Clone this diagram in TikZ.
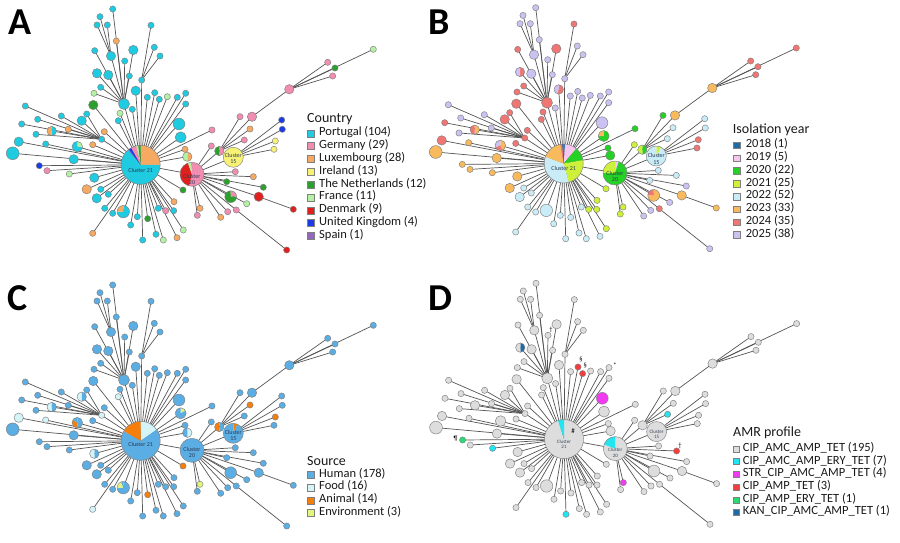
\documentclass[tikz,border=0pt]{standalone}
\usepackage{fontspec}
\setmainfont{Carlito}
% country
\definecolor{cPT}{HTML}{1ECBE1}\definecolor{cDE}{HTML}{F28DB2}\definecolor{cLU}{HTML}{F5A962}
\definecolor{cIE}{HTML}{F7F176}\definecolor{cNL}{HTML}{2CA02C}\definecolor{cFR}{HTML}{B3F1A3}
\definecolor{cDK}{HTML}{E0201E}\definecolor{cUK}{HTML}{1A3CE6}\definecolor{cES}{HTML}{9467BD}
% year
\definecolor{yA}{HTML}{1F6BA6}\definecolor{yB}{HTML}{F9C6F2}\definecolor{yC}{HTML}{25D125}
\definecolor{yD}{HTML}{CDF03A}\definecolor{yE}{HTML}{C9ECF7}\definecolor{yF}{HTML}{F8BA5C}
\definecolor{yG}{HTML}{F07673}\definecolor{yH}{HTML}{CBC2F2}
% source
\definecolor{sH}{HTML}{5BAEE3}\definecolor{sF}{HTML}{D4F4F7}\definecolor{sA}{HTML}{F57F0A}\definecolor{sE}{HTML}{E3F57A}
% amr
\definecolor{gG}{HTML}{DDDDDD}\definecolor{gC}{HTML}{22E5F2}\definecolor{gM}{HTML}{F23AF2}
\definecolor{gR}{HTML}{F23E3E}\definecolor{gN}{HTML}{2ADB74}\definecolor{gK}{HTML}{1F6BA6}
\definecolor{edgecol}{HTML}{555555}\definecolor{rimcol}{HTML}{7F7F7F}
\definecolor{txtcol}{HTML}{1A1A1A}\definecolor{clcol}{HTML}{2B3A55}

\newcommand\setseg[3]{\expandafter\gdef\csname seg@#1@#2\endcsname{#3}}
\newcommand\setcols[3]{\foreach \q in {#3}{\setseg{#1}{\q}{0/360/#2}}}
\newcommand\setdef[2]{\expandafter\gdef\csname def@#1\endcsname{#2}}

\def\nodelist{1/140.7/164.8/19.5pt/0,2/192.0/174.3/12pt/1,3/233.3/157.3/10pt/2,4/219.3/151.0/4.7pt/2,
5/240.0/116.7/3.1pt/4,6/252.0/116.7/4.7pt/4,7/289.3/89.3/4.7pt/6,8/327.7/62.3/3.1pt/7,9/335.0/68.0/3.1pt/7,
10/332.7/76.0/3.1pt/7,11/373.3/49.3/3.1pt/7,12/250.0/129.0/3.1pt/4,13/244.3/140.0/3.1pt/4,14/211.3/146.0/3.1pt/2,
15/281.7/120.0/3.1pt/3,16/282.3/129.3/3.1pt/3,17/275.3/141.0/3.1pt/3,18/274.0/149.3/3.1pt/3,19/235.3/171.7/3.1pt/2,
20/253.3/176.7/3.1pt/2,21/226.7/181.7/3.1pt/2,22/263.3/187.3/3.1pt/2,23/258.7/196.7/4.7pt/2,24/293.3/209.3/3.1pt/23,
25/230.7/196.7/5.9pt/2,26/246.7/203.7/3.1pt/2,27/236.3/210.0/3.1pt/2,28/227.7/211.7/3.1pt/2,29/220.7/217.3/3.1pt/2,
30/200.0/208.3/3.1pt/2,31/197.3/215.3/3.1pt/2,32/286.7/250.0/3.1pt/27,33/185.0/149.3/3.1pt/1,34/187.3/156.7/4.7pt/1,
35/212.0/130.0/3.1pt/1,36/179.0/124.0/5.9pt/1,37/180.7/137.3/5.5pt/1,38/147.3/97.3/3.1pt/1,39/154.7/92.7/3.1pt/1,
40/159.3/99.3/3.1pt/1,41/167.3/96.7/3.1pt/1,42/177.3/97.3/3.1pt/1,43/185.7/93.3/3.1pt/1,44/185.7/104.0/3.1pt/1,
45/124.0/104.0/5.5pt/1,46/112.7/9.0/3.1pt/45,47/111.0/56.0/4.7pt/45,48/100.0/16.7/3.1pt/47,49/97.0/25.0/3.1pt/47,
50/107.3/25.0/3.1pt/47,51/116.3/41.0/3.1pt/45,52/133.3/50.0/4.7pt/45,53/94.7/50.7/3.1pt/45,54/124.7/61.0/3.1pt/45,
55/97.0/73.3/4.7pt/45,56/108.3/75.0/4.7pt/45,57/129.3/76.0/3.1pt/45,58/100.7/87.3/3.1pt/45,59/135.7/90.7/4.7pt/1,
60/151.0/25.3/3.1pt/63,61/154.3/47.3/3.1pt/63,62/160.0/56.0/3.1pt/63,63/141.7/80.0/3.1pt/1,64/132.3/109.3/3.1pt/1,
65/93.3/105.0/4.7pt/1,66/94.0/93.3/3.1pt/45,67/118.3/120.7/3.1pt/1,68/120.0/113.3/3.1pt/1,69/101.7/139.3/3.1pt/1,
70/25.3/106.0/3.1pt/69,71/37.7/119.3/3.1pt/69,72/61.3/116.0/3.1pt/69,73/86.7/114.0/3.1pt/69,74/81.7/120.7/4.7pt/69,
75/21.7/124.0/3.1pt/69,76/51.7/131.0/4.7pt/69,77/68.3/129.3/3.1pt/69,78/104.3/131.7/3.1pt/1,79/36.0/134.3/3.1pt/69,
80/45.7/144.0/3.1pt/1,81/18.7/141.7/4.7pt/1,82/77.3/146.7/5.3pt/1,83/92.7/144.7/3.1pt/1,84/12.7/153.3/6.4pt/1,
85/73.7/159.3/4.7pt/1,86/39.3/165.7/3.1pt/1,87/47.0/170.7/3.1pt/1,88/69.3/174.0/3.1pt/1,89/94.3/177.7/4.7pt/1,
90/86.7/189.3/4.7pt/1,91/100.7/189.3/3.1pt/1,92/96.7/198.3/4.7pt/1,93/108.3/194.3/3.1pt/1,94/104.7/208.3/3.1pt/1,
95/92.7/233.3/3.1pt/1,96/112.7/213.3/3.1pt/1,97/123.3/211.7/6.2pt/1,98/130.7/225.0/3.1pt/1,99/137.3/216.7/3.1pt/1,
100/142.7/240.0/3.1pt/1,101/147.7/218.7/3.1pt/1,102/156.0/234.3/3.1pt/1,103/158.3/208.3/3.1pt/1,104/165.7/210.7/3.1pt/1,
105/163.3/240.0/3.1pt/1,106/173.7/210.7/3.1pt/1,107/177.0/237.7/3.1pt/1,108/183.3/230.0/3.1pt/1,109/174.0/201.7/3.1pt/1,
110/183.0/190.0/3.1pt/1}

\newcommand\drawtree[3]{%
\begin{scope}[shift={(#2,#3)}]
  \foreach \i/\x/\y/\r/\p in \nodelist {\coordinate (#1-\i) at (\x,\y);}
  \foreach \i/\x/\y/\r/\p in \nodelist {\ifnum\p>0 \draw[edge] (#1-\p) -- (#1-\i);\fi}
  \foreach \i/\x/\y/\r/\p in \nodelist {%
    \ifcsname seg@#1@\i\endcsname
      \edef\seglist{\csname seg@#1@\i\endcsname}%
    \else
      \edef\seglist{0/360/\csname def@#1\endcsname}%
    \fi
    \foreach \a/\b/\c in \seglist {%
      \fill[\c] (#1-\i) -- ++({90-\a}:\r) arc[start angle={90-\a}, end angle={90-\b}, radius=\r] -- cycle;}
    \draw[rim] (#1-\i) circle[radius=\r];
  }
\end{scope}}

% ---------- panel A
\setdef{A}{cPT}
\setseg{A}{1}{0/90/cLU,90/320/cPT,320/323/cES,323/331/cUK,331/347/cDE,347/353/cFR,353/360/cNL}
\setseg{A}{2}{0/195/cDE,195/340/cDK,340/355/cFR,355/360/cDE}
\setseg{A}{3}{0/360/cIE}
\setseg{A}{4}{0/180/cDE,180/360/cNL}
\setcols{A}{cDE}{5,6,7,8,10,13,14,19,27,28,31,35,87,104}
\setcols{A}{cNL}{9,21,22,65,101,110}
\setcols{A}{cFR}{11,26,41,66,68,88,105,108}
\setcols{A}{cLU}{12,20,29,30,33,51,77,78,83,90,95,107,109}
\setcols{A}{cUK}{15,16,86}
\setcols{A}{cIE}{17,18}
\setcols{A}{cDK}{23,24,32}
\setseg{A}{25}{0/90/cDE,90/360/cNL}
\setseg{A}{34}{0/180/cLU,180/360/cFR}
\setseg{A}{76}{0/180/cPT,180/360/cLU}
\setseg{A}{82}{0/100/cFR,100/360/cPT}
\setseg{A}{97}{0/270/cPT,270/360/cLU}
% ---------- panel B
\setdef{B}{yE}
\setseg{B}{1}{0/4/yA,4/40/yB,40/80/yC,80/165/yD,165/290/yE,290/350/yF,350/356/yG,356/360/yA}
\setseg{B}{2}{0/18/yB,18/270/yC,270/360/yD}
\setseg{B}{3}{0/30/yD,30/360/yE}
\setseg{B}{4}{0/180/yC,180/360/yD}
\setcols{B}{yC}{5,33,34,35}
\setcols{B}{yF}{6,7,23,24,80,84,85,86,87,88,89,90}
\setcols{B}{yG}{8,9,10,11,17,18,27,45,52,53,58,60,65,66,67,68,69,73,74,75,78,81,83}
\setcols{B}{yH}{22,26,28,29,32,36,38,39,40,41,42,43,44,46,47,48,49,50,51,54,56,57,61,62,63,64,70,71,72,77,79}
\setcols{B}{yD}{14,30,31,104,106,108,109,110}
\setseg{B}{25}{0/270/yF,270/360/yG}
\setseg{B}{37}{0/270/yC,270/360/yF}
\setseg{B}{55}{0/180/yG,180/360/yH}
\setseg{B}{59}{0/200/yG,200/360/yH}
\setseg{B}{76}{0/180/yF,180/360/yG}
\setseg{B}{82}{0/160/yF,160/250/yG,250/360/yH}
% ---------- panel C
\setdef{C}{sH}
\setseg{C}{1}{0/55/sF,55/300/sH,300/360/sA}
\setseg{C}{3}{0/25/sA,25/360/sH}
\setseg{C}{4}{0/180/sH,180/360/sA}
\setcols{C}{sA}{12,17,101,110}
\setcols{C}{sF}{67,69,80,81,95}
\setcols{C}{sE}{30}
\setseg{C}{34}{0/180/sF,180/360/sH}
\setseg{C}{37}{0/60/sE,60/360/sH}
\setseg{C}{74}{0/180/sH,180/360/sF}
\setseg{C}{76}{0/180/sH,180/360/sF}
\setseg{C}{82}{0/180/sH,180/300/sA,300/360/sH}
\setseg{C}{89}{0/180/sH,180/360/sF}
\setseg{C}{97}{0/270/sH,270/340/sE,340/360/sH}
% ---------- panel D
\setdef{D}{gG}
\setseg{D}{1}{0/342/gG,342/360/gC}
\setseg{D}{2}{0/290/gG,290/360/gC}
\setseg{D}{55}{0/180/gK,180/360/gG}
\setcols{D}{gR}{39,40,20}
\setcols{D}{gM}{36,30}
\setcols{D}{gC}{13,100,88}
\setcols{D}{gN}{86}

\tikzset{
  edge/.style={draw=edgecol, line width=0.7pt},
  rim/.style={draw=rimcol, line width=0.45pt},
  legbox/.style={draw=rimcol, line width=0.5pt, minimum size=7pt, inner sep=0pt},
  legtxt/.style={font=\fontsize{12.5}{13}\selectfont, text=txtcol, anchor=mid west, inner sep=0pt},
  legtitle/.style={font=\fontsize{14}{15}\selectfont, text=txtcol, anchor=mid west, inner sep=0pt},
  panellet/.style={font=\bfseries\fontsize{38}{38}\selectfont, anchor=base west, inner sep=0pt},
  clab/.style={font=\fontsize{6}{6.2}\selectfont, text=clcol, align=center, inner sep=0pt},
  clabd/.style={font=\fontsize{5}{5.4}\selectfont, text=clcol!80!gray, align=center, inner sep=0pt},
  footmark/.style={font=\fontsize{6.5}{7}\selectfont, text=black, inner sep=0pt}
}

\begin{document}
\begin{tikzpicture}[x=1pt,y=-1pt]
\useasboundingbox (0,0) rectangle (900,543);
\fill[white] (0,0) rectangle (900,543);

\drawtree{A}{0}{0}
\drawtree{B}{423}{-1.3}
\drawtree{C}{0}{276}
\drawtree{D}{423.3}{274.3}

% cluster labels
\path (A-1) ++(0,5.7) node[clab] (A-l1) {Cluster 21};
\path (A-2) ++(0,5) node[clab] (A-l2) {Cluster\\20};
\path (A-3) ++(0,1.5) node[clab] (A-l3) {Cluster\\15};
\path (B-1) ++(0,5.3) node[clab] (B-l1) {Cluster 21};
\path (B-2) ++(0,3.5) node[clab] (B-l2) {Cluster\\20};
\path (B-3) ++(0,3) node[clab] (B-l3) {Cluster\\15};
\path (C-1) ++(0,4) node[clab] (C-l1) {Cluster 21};
\path (C-2) ++(0,2.3) node[clab] (C-l2) {Cluster\\20};
\path (C-3) ++(0,2.5) node[clab] (C-l3) {Cluster\\15};
\path (D-1) ++(0,5.3) node[clabd] (D-l1) {Cluster\\21};
\path (D-2) ++(0,4.3) node[clabd] (D-l2) {Cluster\\20};
\path (D-3) ++(0,2.5) node[clabd] (D-l3) {Cluster\\15};

% D marks
\path (D-54) ++(3,-5.3) node[footmark] (D-m1) {†};
\path (D-39) ++(3,-8) node[footmark] (D-m2) {§};
\path (D-40) ++(2.7,-8.3) node[footmark] (D-m3) {§};
\path (D-43) ++(6,-2) node[footmark] (D-m4) {*};
\path (D-1) ++(9,-7.7) node[footmark, font=\fontsize{7}{7}\selectfont] (D-m5) {\#};
\path (D-86) ++(-7,-1) node[footmark] (D-m6) {¶};
\path (D-20) ++(3.3,-5.7) node[footmark] (D-m7) {†};

% panel letters
\node[panellet] (LetA) at (8.5,35) {A};
\node[panellet] (LetB) at (428.5,35) {B};
\node[panellet] (LetC) at (7,310) {C};
\node[panellet] (LetD) at (428.5,310) {D};

% legends
\node[legtitle] (LA-title) at (307,120) {Country};
\foreach \t/\c [count=\k from 0] in {Portugal (104)/cPT,Germany (29)/cDE,Luxembourg (28)/cLU,Ireland (13)/cIE,The Netherlands (12)/cNL,France (11)/cFR,Denmark (9)/cDK,United Kingdom (4)/cUK,Spain (1)/cES}
{ \node[legbox, fill=\c] (LA-b\k) at (311,133.3+12.83*\k) {};
  \node[legtxt] (LA-t\k) at (319,133.3+12.83*\k) {\t}; }

\node[legtitle] (LB-title) at (732.7,131) {Isolation year};
\foreach \t/\c [count=\k from 0] in {2018 (1)/yA,2019 (5)/yB,2020 (22)/yC,2021 (25)/yD,2022 (52)/yE,2023 (33)/yF,2024 (35)/yG,2025 (38)/yH}
{ \node[legbox, fill=\c, minimum size=6.5pt] (LB-b\k) at (736.7,145.3+12.8*\k) {};
  \node[legtxt] (LB-t\k) at (745.7,145.3+12.8*\k) {\t}; }

\node[legtitle] (LC-title) at (307,462.7) {Source};
\foreach \t/\c [count=\k from 0] in {Human (178)/sH,Food (16)/sF,Animal (14)/sA,Environment (3)/sE}
{ \node[legbox, fill=\c] (LC-b\k) at (311,474.7+12.83*\k) {};
  \node[legtxt] (LC-t\k) at (319,474.7+12.83*\k) {\t}; }

\node[legtitle] (LD-title) at (733,434.3) {AMR profile};
\foreach \t/\c [count=\k from 0] in {CIP\_AMC\_AMP\_TET (195)/gG,CIP\_AMC\_AMP\_ERY\_TET (7)/gC,STR\_CIP\_AMC\_AMP\_TET (4)/gM,CIP\_AMP\_TET (3)/gR,CIP\_AMP\_ERY\_TET (1)/gN,KAN\_CIP\_AMC\_AMP\_TET (1)/gK}
{ \node[legbox, fill=\c, minimum size=6pt] (LD-b\k) at (736.3,449+12.7*\k) {};
  \node[legtxt] (LD-t\k) at (742.7,449+12.7*\k) {\t}; }
\end{tikzpicture}
\end{document}
